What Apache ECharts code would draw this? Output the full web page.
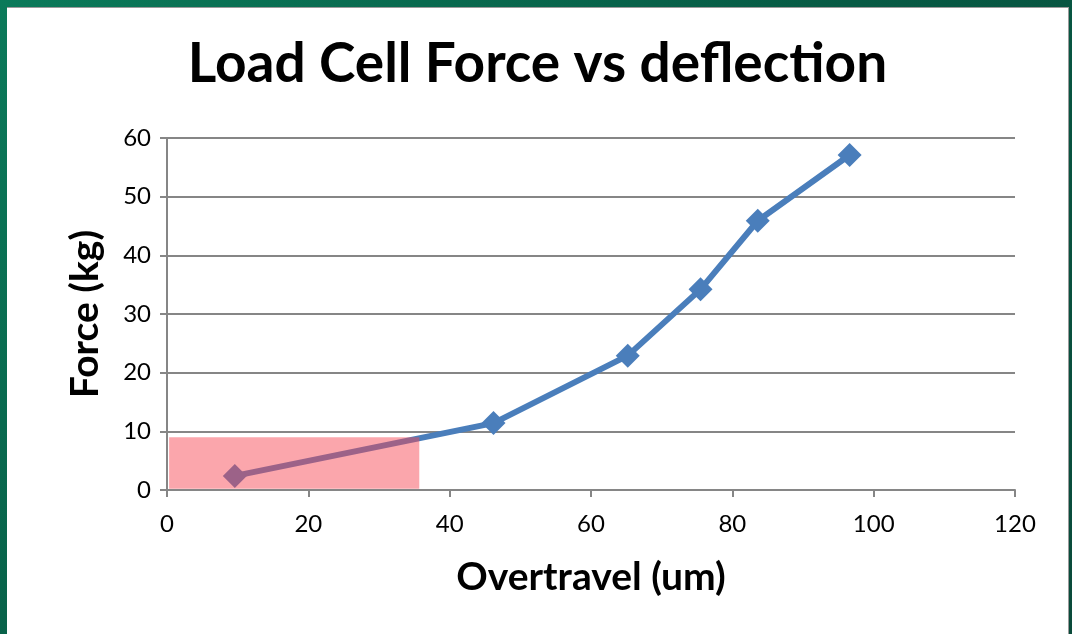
<!DOCTYPE html>
<html>
<head>
<meta charset="utf-8">
<script src="https://cdn.jsdelivr.net/npm/echarts@6/dist/echarts.min.js"></script>
<style>
	html, body { margin: 0; padding: 0; }
	#frame {
		position: relative;
		width: 1072px;
		height: 634px;
		background: linear-gradient(135deg, #0b7a5a 0%, #075a44 50%, #0a4a3a 100%);
	}
	#chart {
		position: absolute;
		left: 7px;
		top: 7px;
		width: 1062px;
		height: 627px;
		background: #ffffff;
		border-top: 1px solid #9a9a9a;
		border-right: 1px solid #9a9a9a;
		box-sizing: border-box;
	}
</style>
</head>
<body>
<div id="frame"><div id="chart"></div></div>
<script>
	// overtravel (um) vs force (kg)
	const overtravel = [9.6, 46.2, 65.2, 75.5, 83.6, 96.6]
	const force = [2.4, 11.4, 22.9, 34.2, 45.9, 57.1]

	// highlighted low-force region
	const zoneX = [0.3, 35.7]
	const zoneY = [0.2, 9.0]

	const myChart = echarts.init(document.getElementById('chart'))

	const axisGray = '#868686'
	const font = 'Lato, "Open Sans", sans-serif'

	const option = {
		animation: false,
		title: {
			text: 'Load Cell Force vs deflection',
			left: 'center',
			top: 24,
			textStyle: { fontFamily: font, fontWeight: 'bold', fontSize: 55, color: '#000' }
		},
		grid: { left: 160, right: 53, top: 130, bottom: 144 },
		xAxis: {
			type: 'value',
			min: 0,
			max: 120,
			interval: 20,
			name: 'Overtravel (um)',
			nameLocation: 'middle',
			nameGap: 68,
			nameTextStyle: { fontFamily: font, fontWeight: 'bold', fontSize: 39, color: '#000' },
			axisLine: { lineStyle: { color: axisGray, width: 2 } },
			axisTick: { show: true, length: 7, lineStyle: { color: axisGray, width: 2 } },
			axisLabel: { fontFamily: font, fontSize: 24, color: '#000', margin: 22 },
			splitLine: { show: false }
		},
		yAxis: {
			type: 'value',
			min: 0,
			max: 60,
			interval: 10,
			name: 'Force (kg)',
			nameLocation: 'middle',
			nameGap: 62,
			nameTextStyle: { fontFamily: font, fontWeight: 'bold', fontSize: 39, color: '#000' },
			axisLine: { show: true, lineStyle: { color: axisGray, width: 2 } },
			axisTick: { show: true, length: 7, lineStyle: { color: axisGray, width: 2 } },
			axisLabel: { fontFamily: font, fontSize: 24, color: '#000', margin: 16 },
			splitLine: { show: true, lineStyle: { color: axisGray, width: 2 } }
		},
		series: [
			{
				name: 'Force',
				type: 'line',
				data: overtravel.map((x, i) => [x, force[i]]),
				symbol: 'diamond',
				symbolSize: 24,
				lineStyle: { color: '#4a7ebb', width: 6 },
				itemStyle: { color: '#4a7ebb' },
				z: 2
			},
			{
				name: 'zone',
				type: 'line',
				data: [],
				z: 5,
				markArea: {
					silent: true,
					z: 10,
					itemStyle: { color: 'rgba(246, 70, 82, 0.48)' },
					data: [[{ coord: [zoneX[0], zoneY[0]] }, { coord: [zoneX[1], zoneY[1]] }]]
				}
			}
		]
	}

	myChart.setOption(option)
</script>
</body>
</html>
